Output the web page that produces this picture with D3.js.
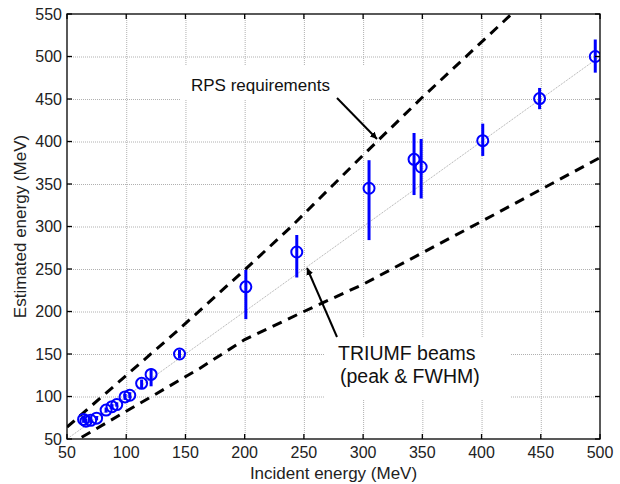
<!DOCTYPE html>
<html><head><meta charset="utf-8">
<script src="https://cdn.jsdelivr.net/npm/d3@7"></script>
<style>body{margin:0;background:#fff}svg{display:block}text{font-family:"Liberation Sans",Arial,Helvetica,sans-serif}</style>
</head><body><svg id="c" width="620" height="484"></svg>
<script>
const xTicks = [50,100,150,200,250,300,350,400,450,500];
const yTicks = [50,100,150,200,250,300,350,400,450,500,550];
const incident  = [64, 66, 70, 75, 83, 88, 92, 99, 103, 113, 121, 145, 201, 244, 305, 343, 349, 401, 449, 496];
const estimated = [73, 71, 72, 74.5, 84, 88, 90.5, 99.5, 101.5, 115.5, 126, 150, 229, 270, 345, 379, 370, 401, 450.5, 500];
const errLow    = [69, 68, 69, 72, 81, 85, 88, 96, 98, 110, 112, 145, 191, 240, 284, 337, 333, 383, 438, 481];
const errHigh   = [77, 74, 75, 77, 87, 91, 93, 103, 105, 120, 133, 155, 249, 290, 378, 410, 403, 421, 463, 520];
const rpsUpperX = [50, 143, 200, 238, 300, 350, 430];
const rpsUpperY = [64, 177, 249, 298, 384, 452, 556];
const rpsLowerX = [50, 162, 200, 250, 300, 400, 500];
const rpsLowerY = [42, 133, 167, 200, 232, 306, 381];
const identity  = [50, 500];

const svg = d3.select("#c");
const x = d3.scaleLinear().domain([50,500]).range([67,600]);
const y = d3.scaleLinear().domain([50,550]).range([439,14]);
const [x0,x1] = x.range(), [y0,y1] = y.range();

svg.append("defs").append("clipPath").attr("id","clip")
  .append("rect").attr("x",x0).attr("y",y1).attr("width",x1-x0).attr("height",y0-y1);
const defs = svg.select("defs");
defs.append("marker").attr("id","arr").attr("viewBox","0 0 10 10").attr("refX",10).attr("refY",5)
  .attr("markerWidth",7).attr("markerHeight",7).attr("markerUnits","userSpaceOnUse").attr("orient","auto")
  .append("path").attr("d","M0,0 L10,5 L0,10 Z").attr("fill","#000");

// grid
const grid = svg.append("g").attr("stroke","#b0b0b0").attr("stroke-width",1).attr("stroke-dasharray","1,1");
grid.selectAll(".gx").data(xTicks.slice(1,-1)).join("line")
  .attr("x1",d=>x(d)+0.5).attr("x2",d=>x(d)+0.5).attr("y1",y0).attr("y2",y1);
grid.selectAll(".gy").data(yTicks.slice(1,-1)).join("line")
  .attr("y1",d=>y(d)+0.5).attr("y2",d=>y(d)+0.5).attr("x1",x0).attr("x2",x1);

// white label boxes
svg.append("rect").attr("x",180).attr("y",66).attr("width",188).attr("height",34).attr("fill","#fff");
svg.append("rect").attr("x",325).attr("y",337).attr("width",185).attr("height",62).attr("fill","#fff");

const plot = svg.append("g").attr("clip-path","url(#clip)");
// identity line
plot.append("line").attr("x1",x(identity[0])).attr("y1",y(identity[0])).attr("x2",x(identity[1])).attr("y2",y(identity[1]))
  .attr("stroke","#a8a8a8").attr("stroke-width",1).attr("stroke-dasharray","1,1");
// RPS dashed lines
const ln = d3.line().x(d=>x(d[0])).y(d=>y(d[1]));
[[rpsUpperX,rpsUpperY],[rpsLowerX,rpsLowerY]].forEach(([xs,ys])=>{
  plot.append("path").attr("d",ln(xs.map((v,i)=>[v,ys[i]]))).attr("fill","none")
    .attr("stroke","#000").attr("stroke-width",3).attr("stroke-dasharray","10,7");
});

// data
const pts = incident.map((v,i)=>({x:v,y:estimated[i],lo:errLow[i],hi:errHigh[i]}));
plot.selectAll(".eb").data(pts).join("line")
  .attr("x1",d=>x(d.x)).attr("x2",d=>x(d.x)).attr("y1",d=>y(d.lo)).attr("y2",d=>y(d.hi))
  .attr("stroke","#0000ff").attr("stroke-width",3);
plot.selectAll(".pt").data(pts).join("circle")
  .attr("cx",d=>x(d.x)).attr("cy",d=>y(d.y)).attr("r",5.5)
  .attr("fill","none").attr("stroke","#0000ff").attr("stroke-width",2);

// frame & ticks
const ax = svg.append("g").attr("stroke","#000").attr("stroke-width",1.3);
ax.append("rect").attr("x",x0).attr("y",y1).attr("width",x1-x0).attr("height",y0-y1).attr("fill","none");
const tl = 5;
ax.selectAll(".tb").data(xTicks).join("line").attr("x1",d=>x(d)).attr("x2",d=>x(d)).attr("y1",y0).attr("y2",y0-tl);
ax.selectAll(".tt").data(xTicks).join("line").attr("x1",d=>x(d)).attr("x2",d=>x(d)).attr("y1",y1).attr("y2",y1+tl);
ax.selectAll(".tl").data(yTicks).join("line").attr("y1",d=>y(d)).attr("y2",d=>y(d)).attr("x1",x0).attr("x2",x0+tl);
ax.selectAll(".tr").data(yTicks).join("line").attr("y1",d=>y(d)).attr("y2",d=>y(d)).attr("x1",x1).attr("x2",x1-tl);

// tick labels
svg.selectAll(".xl").data(xTicks).join("text").attr("x",d=>x(d)).attr("y",458)
  .attr("text-anchor","middle").attr("font-size",16).attr("fill","#222").text(d=>d);
svg.selectAll(".yl").data(yTicks).join("text").attr("x",62).attr("y",d=>y(d)+5.5)
  .attr("text-anchor","end").attr("font-size",16).attr("fill","#222").text(d=>d);

// axis titles
svg.append("text").attr("x",(x0+x1)/2).attr("y",479).attr("text-anchor","middle").attr("font-size",17).attr("fill","#222")
  .text("Incident energy (MeV)");
svg.append("text").attr("transform",`translate(26,${(y0+y1)/2}) rotate(-90)`).attr("text-anchor","middle")
  .attr("font-size",17).attr("fill","#222").text("Estimated energy (MeV)");

// annotations
svg.append("text").attr("x",191).attr("y",91).attr("font-size",17).attr("fill","#111").text("RPS requirements");
svg.append("line").attr("x1",337).attr("y1",98).attr("x2",377).attr("y2",139)
  .attr("stroke","#000").attr("stroke-width",2).attr("marker-end","url(#arr)");
svg.append("text").attr("x",338).attr("y",360).attr("font-size",19.5).attr("fill","#111").text("TRIUMF beams");
svg.append("text").attr("x",340).attr("y",383).attr("font-size",19.5).attr("fill","#111").text("(peak & FWHM)");
svg.append("line").attr("x1",337).attr("y1",337).attr("x2",307).attr("y2",268)
  .attr("stroke","#000").attr("stroke-width",2).attr("marker-end","url(#arr)");
</script></body></html>
